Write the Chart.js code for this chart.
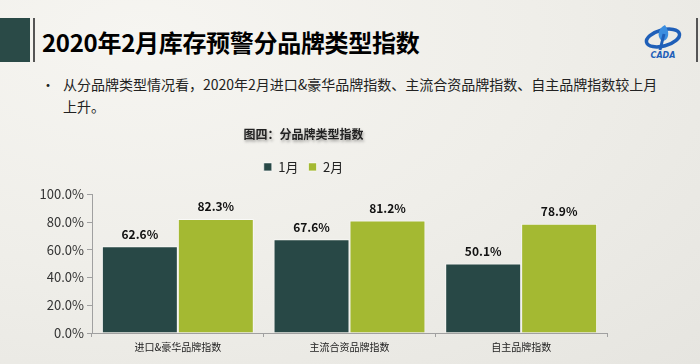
<!DOCTYPE html>
<html>
<head>
<meta charset="utf-8">
<script src="https://cdn.jsdelivr.net/npm/chart.js@4.4.1/dist/chart.umd.min.js"></script>
<style>
  html, body { margin: 0; padding: 0; }
  body {
    width: 700px; height: 364px; overflow: hidden; position: relative;
    background: radial-gradient(ellipse at 20% 10%, #f6f5f1 0%, #efeee9 50%, #e6e5e0 100%);
    font-family: 'Noto Sans CJK SC', 'Noto Sans', sans-serif;
  }
  .block { position: absolute; left: 0; top: 18px; width: 30px; height: 44px; background: #2a4a47; }
  .bar-l { position: absolute; left: 33px; top: 18px; width: 2px; height: 44px; background: #555; }
  .bar-r { position: absolute; left: 696px; top: 18px; width: 2px; height: 44px; background: #555; }
  h1 { position: absolute; left: 42px; top: 25px; margin: 0; font-size: 24px; line-height: 34px; font-weight: bold; color: #000; letter-spacing: -0.3px; }
  .bullet { position: absolute; left: 41px; top: 73px; font-size: 14px; color: #222; line-height: 22px; }
  .text { position: absolute; left: 63px; top: 73px; width: 630px; font-size: 14px; line-height: 22px; color: #222; }
  .logo { position: absolute; left: 643px; top: 22px; }
  #wrap { position: absolute; left: 0; top: 120px; width: 700px; height: 244px; }
</style>
</head>
<body>
<div class="block"></div>
<div class="bar-l"></div>
<div class="bar-r"></div>
<h1>2020年2月库存预警分品牌类型指数</h1>
<div class="bullet">•</div>
<div class="text">从分品牌类型情况看，2020年2月进口&amp;豪华品牌指数、主流合资品牌指数、自主品牌指数较上月<br>上升。</div>
<svg class="logo" width="42" height="38" viewBox="0 0 42 38">
  <ellipse cx="20" cy="16" rx="17" ry="8" fill="none" stroke="#1f5fb8" stroke-width="3.5" transform="rotate(-15 20 16)"/>
  <path d="M22 3 C16 6 14 12 17 17 C19 20 24 19 25 14 C26 10 24 6 22 3 Z" fill="#3b8ee0"/>
  <path d="M21 12 L17 28" stroke="#1f5fb8" stroke-width="3"/>
  <text x="20" y="36" font-size="8" font-style="italic" font-weight="bold" fill="#1f5fb8" text-anchor="middle" font-family="DejaVu Sans">CADA</text>
</svg>
<div id="wrap"><canvas id="chart"></canvas></div>
<script>
const categories = ['进口&豪华品牌指数', '主流合资品牌指数', '自主品牌指数'];
const janValues = [62.6, 67.6, 50.1];
const febValues = [82.3, 81.2, 78.9];
const seriesNames = ['1月', '2月'];
const yTicks = [0, 20, 40, 60, 80, 100];

Chart.defaults.font.family = "'Noto Sans CJK SC', 'Noto Sans', sans-serif";

// value labels above each bar
const barLabels = {
  id: 'barLabels',
  afterDatasetsDraw(chart) {
    const ctx = chart.ctx;
    ctx.save();
    ctx.font = "bold 12px 'Noto Sans CJK SC', sans-serif";
    ctx.fillStyle = '#111';
    ctx.textAlign = 'center';
    ctx.textBaseline = 'middle';
    chart.data.datasets.forEach((ds, i) => {
      chart.getDatasetMeta(i).data.forEach((bar, j) => {
        ctx.fillText(ds.data[j].toFixed(1) + '%', bar.x, bar.y - 12);
      });
    });
    ctx.restore();
  }
};

// a bit more space under the legend + drop shadow on the chart title
const tweaks = {
  id: 'tweaks',
  beforeInit(chart) {
    if (chart.legend) {
      const fitLegend = chart.legend.fit.bind(chart.legend);
      chart.legend.fit = function () { fitLegend(); this.height += 11; };
    }
    if (chart.titleBlock) {
      const drawTitle = chart.titleBlock.draw.bind(chart.titleBlock);
      chart.titleBlock.draw = function () {
        const ctx = chart.ctx;
        ctx.save();
        ctx.shadowColor = 'rgba(0,0,0,0.35)';
        ctx.shadowOffsetX = 1;
        ctx.shadowOffsetY = 2;
        ctx.shadowBlur = 3;
        drawTitle();
        ctx.restore();
      };
    }
  }
};

new Chart(document.getElementById('chart'), {
  type: 'bar',
  data: {
    labels: categories,
    datasets: [
      { label: seriesNames[0], data: janValues, backgroundColor: '#284846', borderColor: 'rgba(255,255,255,0.6)', borderWidth: 1 },
      { label: seriesNames[1], data: febValues, backgroundColor: '#a4b932', borderColor: 'rgba(255,255,255,0.6)', borderWidth: 1 }
    ]
  },
  options: {
    responsive: true,
    maintainAspectRatio: false,
    animation: false,
    layout: { padding: { left: 0, right: 93, top: 0, bottom: 7 } },
    datasets: { bar: { categoryPercentage: 0.885, barPercentage: 1.0 } },
    scales: {
      y: {
        min: 0, max: 100,
        afterBuildTicks: (s) => { s.ticks = yTicks.map(v => ({ value: v })); },
        afterFit: (s) => { s.width = 92; },
        border: { color: '#a0a0a0', width: 1 },
        grid: { drawOnChartArea: false, drawTicks: true, tickLength: 5, color: '#a0a0a0' },
        ticks: { padding: 3, color: '#333', font: { size: 13 }, callback: (v) => v.toFixed(1) + '%' }
      },
      x: {
        border: { color: '#a0a0a0', width: 1 },
        grid: { drawOnChartArea: false, drawTicks: true, tickLength: 4, color: '#a0a0a0', offset: true },
        ticks: { padding: 4, color: '#222', font: { size: 10 } }
      }
    },
    plugins: {
      title: {
        display: true,
        text: '图四：分品牌类型指数',
        color: '#222',
        font: { size: 12, weight: 'bold' },
        padding: { top: 7, bottom: 9 }
      },
      legend: {
        display: true,
        position: 'top',
        labels: { boxWidth: 8, boxHeight: 8, padding: 10, color: '#222', font: { size: 13 } }
      },
      tooltip: { enabled: false }
    }
  },
  plugins: [barLabels, tweaks]
});
</script>
</body>
</html>
